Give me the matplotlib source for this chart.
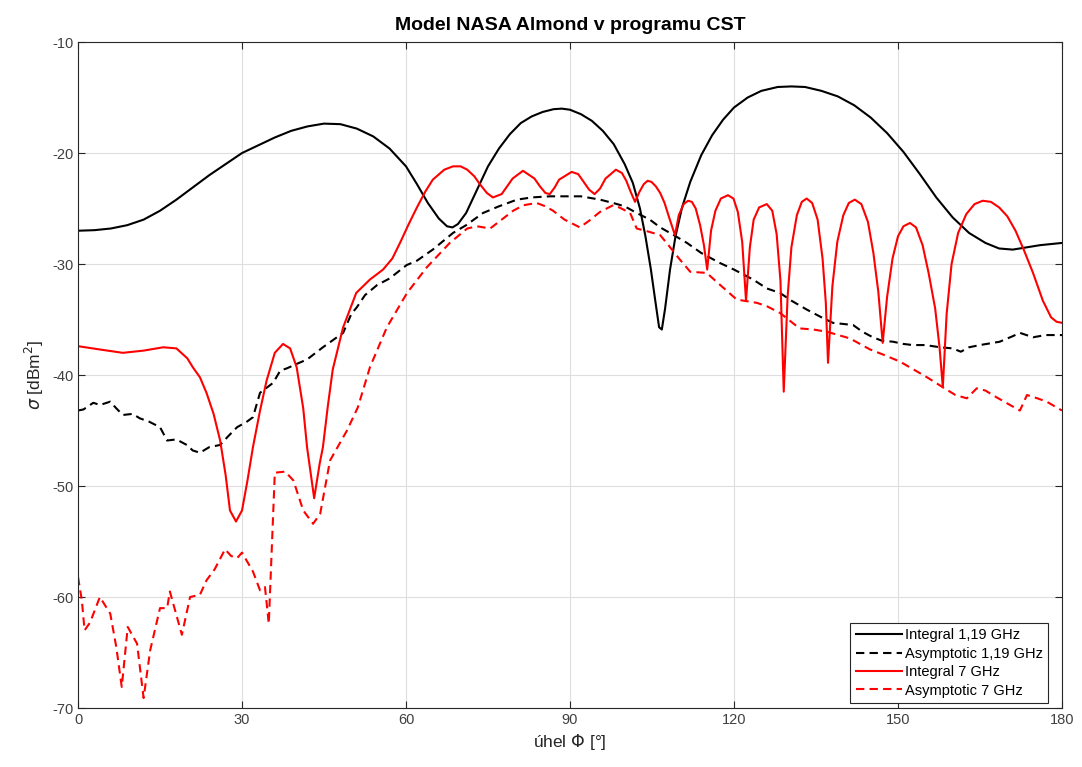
import matplotlib
matplotlib.use("Agg")
import matplotlib.pyplot as plt

plt.rcParams["font.family"] = ["Liberation Sans", "DejaVu Sans"]
plt.rcParams["mathtext.fontset"] = "dejavusans"
plt.rcParams["axes.unicode_minus"] = False

# Integral 1,19 GHz
int119_x = [0, 3, 6, 9, 12, 15, 18, 21, 24, 27, 30, 33, 36, 39, 42, 45, 48, 51, 54, 57, 60, 62,
            64, 66, 67.5, 68.5, 69.5, 71, 73, 75, 77, 79, 81, 83, 85, 87, 88.5, 90, 92, 94, 96,
            98, 100, 101.5, 102.8, 103.8, 104.8, 105.6, 106.3, 106.8, 107.4, 108.3, 109.3,
            110.5, 112, 114, 116, 118, 120, 122.5, 125, 128, 130.5, 133, 136, 139, 142, 145,
            148, 151, 154, 157, 160, 163, 166, 168.5, 171, 173.5, 176, 178, 180]
int119_y = [-27.0, -26.95, -26.8, -26.5, -26.0, -25.2, -24.2, -23.1, -22.0, -21.0, -20.0, -19.3,
            -18.6, -18.0, -17.6, -17.35, -17.4, -17.8, -18.5, -19.6, -21.2, -22.8, -24.5, -25.9,
            -26.6, -26.7, -26.4, -25.4, -23.3, -21.2, -19.6, -18.3, -17.3, -16.7, -16.3, -16.05,
            -16.0, -16.1, -16.5, -17.1, -18.0, -19.2, -21.0, -22.7, -25.0, -27.5, -30.5, -33.3,
            -35.7, -35.9, -34.0, -30.5, -27.5, -24.9, -22.6, -20.2, -18.4, -17.0, -15.9, -15.0,
            -14.4, -14.05, -14.0, -14.05, -14.4, -14.9, -15.7, -16.8, -18.2, -19.9, -21.9, -24.0,
            -25.8, -27.2, -28.1, -28.6, -28.7, -28.5, -28.3, -28.2, -28.1]

# Asymptotic 1,19 GHz
asy119_x = [0, 1, 2.8, 4, 5.9, 7, 8.2, 10, 11.3, 13, 15, 16.3, 18, 19.9, 21, 22.3, 24, 26,
            27.5, 29.1, 30.9, 32, 33.3, 35.7, 37, 38.2, 40, 41.9, 44.8, 48.5, 50, 51, 52.5,
            54.7, 57, 60.1, 62, 64.9, 68.6, 71, 74.1, 77, 80.3, 83, 86.3, 90, 92, 95.5, 97.9,
            100, 102.2, 104.6, 106.5, 109, 111.4, 114, 117.4, 120, 123.5, 126, 128.4, 130.5,
            133.3, 136, 138.1, 140, 141.8, 143.5, 145.4, 147, 149.1, 151, 152.7, 155, 157.7,
            160, 161.5, 163, 165, 168.6, 171, 172.3, 173.5, 174.7, 177, 180]
asy119_y = [-43.2, -43.1, -42.5, -42.7, -42.4, -43.0, -43.6, -43.5, -43.9, -44.2, -44.7, -45.9,
            -45.8, -46.3, -46.8, -47.0, -46.5, -46.3, -45.5, -44.7, -44.2, -43.8, -41.6, -40.7,
            -39.6, -39.4, -39.0, -38.6, -37.5, -36.2, -34.5, -33.9, -32.8, -31.9, -31.3, -30.1,
            -29.7, -28.7, -27.2, -26.5, -25.4, -24.8, -24.2, -24.0, -23.9, -23.9, -23.9, -24.2,
            -24.5, -24.8, -25.4, -26.0, -26.7, -27.4, -28.1, -29.0, -29.9, -30.5, -31.4, -32.2,
            -32.6, -33.3, -34.1, -34.8, -35.3, -35.4, -35.5, -36.1, -36.6, -36.9, -37.0, -37.2,
            -37.3, -37.3, -37.5, -37.6, -37.9, -37.5, -37.3, -37.0, -36.5, -36.2, -36.4, -36.6,
            -36.4, -36.4]

# Integral 7 GHz
int7_x = [0, 4, 8.2, 12, 15.6, 18, 20, 21, 22.3, 23.5, 24.8, 26, 27, 27.8, 28.9, 30, 31, 32,
          33.3, 34.5, 36, 37.5, 38.8, 40, 41.2, 41.9, 43.2, 44.2, 44.8, 45.7, 46.6, 48.5, 50.9,
          53.4, 55.8, 57.5, 58.9, 60.5, 62, 63.5, 64.9, 67, 68.6, 70, 71.2, 72.5, 73.5, 74.8,
          75.9, 77.5, 78.5, 79.5, 81.4, 83.5, 84.5, 85.5, 86.3, 87.2, 88, 90.3, 91.5, 92.5,
          93.5, 94.5, 95.5, 96.5, 98.4, 99.5, 100.3, 101.1, 101.9, 102.7, 103.5, 104.2, 104.9,
          105.7, 106.5, 107.3, 108, 108.6, 109.2,
          109.9, 110.8, 111.6, 112.3, 113.0, 113.8, 114.5, 115.1,
          115.8, 116.6, 117.6, 118.9, 119.9, 120.7, 121.5, 122.2,
          122.9, 123.6, 124.6, 126.0, 127.0, 127.8, 128.5, 129.1,
          129.8, 130.5, 131.5, 132.4, 133.3, 134.3, 135.3, 136.2, 136.8, 137.2,
          138.0, 138.9, 140.0, 141.0, 142.1, 143.3, 144.5, 145.5, 146.4, 147.2,
          148.0, 149.0, 150.0, 151.0, 152.2, 153.3, 154.5, 155.6, 156.8, 157.6, 158.2,
          158.9, 159.8, 161, 162.5, 164, 165.5, 167, 168.5, 170, 171.5, 173, 174.7, 176.5,
          178, 179, 180]
int7_y = [-37.4, -37.7, -38.0, -37.8, -37.5, -37.6, -38.5, -39.3, -40.2, -41.6, -43.5, -45.9,
          -49.0, -52.2, -53.2, -52.2, -49.5, -46.5, -43.2, -40.5, -38.0, -37.2, -37.6, -39.3,
          -43.0, -46.5, -51.1, -48.0, -46.5, -42.8, -39.5, -35.7, -32.6, -31.4, -30.5, -29.5,
          -28.1, -26.4, -24.9, -23.5, -22.4, -21.5, -21.2, -21.2, -21.5, -22.1, -22.8, -23.6,
          -24.0, -23.7, -23.0, -22.3, -21.6, -22.3, -23.0, -23.6, -23.7, -23.1, -22.4, -21.7,
          -21.9, -22.6, -23.3, -23.7, -23.2, -22.3, -21.5, -21.8, -22.5, -23.5, -24.4, -23.5,
          -22.8, -22.5, -22.6, -23.0, -23.6, -24.5, -25.6, -26.5, -27.4,
          -25.6, -24.6, -24.3, -24.4, -25.0, -26.5, -28.3, -30.5,
          -27.0, -25.2, -24.1, -23.8, -24.1, -25.3, -28.0, -33.3,
          -28.5, -26.0, -24.9, -24.6, -25.2, -27.3, -31.5, -41.5,
          -33.0, -28.5, -25.6, -24.4, -24.1, -24.5, -26.0, -29.5, -33.5, -38.9,
          -32.0, -28.0, -25.6, -24.5, -24.2, -24.6, -26.2, -29.0, -32.5, -37.1,
          -33.0, -29.5, -27.5, -26.6, -26.3, -26.7, -28.3, -30.8, -34.0, -37.5, -41.1,
          -34.5, -30.0, -27.2, -25.5, -24.6, -24.3, -24.4, -24.9, -25.7, -27.0, -28.7, -30.8,
          -33.3, -34.8, -35.2, -35.3]

# Asymptotic 7 GHz
asy7_x = [0, 0.7, 1.2, 2.2, 4, 5.9, 7, 8, 9.1, 10.8, 12, 13.2, 15, 16.3, 16.8, 19, 20.5, 22.3,
          23.5, 25, 26.9, 28, 29.1, 30, 32, 33.3, 34.2, 34.9, 36, 37.9, 39.4, 41.2, 43, 44.3,
          46.1, 49.2, 51.2, 53.4, 56.5, 60.2, 63.8, 68, 71.2, 73, 75.4, 77.5, 79.6, 81.5, 83.9,
          85.5, 86.9, 89, 91.8, 93.5, 95.5, 97.9, 99, 101, 102.2, 104.5, 106.5, 108, 110.1,
          112, 115, 117.5, 120.5, 124.2, 126, 128.4, 132, 134.5, 137, 141.2, 144.9, 147.5,
          150.4, 155.3, 158.2, 160.5, 162.6, 164.4, 166, 168, 170.5, 172.3, 173.6, 175.5,
          177.2, 180]
asy7_y = [-58.2, -60.3, -63.0, -62.3, -60.0, -61.5, -64.5, -68.1, -62.7, -64.2, -69.1, -64.8,
          -61.0, -61.0, -59.5, -63.4, -60.0, -59.8, -58.5, -57.5, -55.7, -56.3, -56.5, -56.0,
          -57.7, -59.4, -59.1, -62.4, -48.8, -48.7, -49.5, -52.2, -53.4, -52.5, -47.7, -45.0,
          -42.9, -39.3, -35.7, -32.6, -30.3, -28.1, -26.8, -26.6, -26.8, -26.0, -25.2, -24.7,
          -24.5, -24.8, -25.2, -26.0, -26.7, -26.1, -25.3, -24.7, -24.9, -25.4, -26.8, -27.1,
          -27.4, -28.3, -29.6, -30.7, -30.8, -31.9, -33.2, -33.5, -33.8, -34.4, -35.8, -35.9,
          -36.1, -36.7, -37.7, -38.2, -38.8, -40.2, -41.1, -41.8, -42.1, -41.2, -41.4, -42.0,
          -42.7, -43.2, -41.8, -42.1, -42.4, -43.2]

fig = plt.figure(figsize=(10.82, 7.67), dpi=100)
ax = fig.add_axes([0.0721, 0.0769, 0.9094, 0.8683])

dash = (4.0, 2.5)
ax.plot(int119_x, int119_y, color="black", linewidth=1.5, label="Integral 1,19 GHz")
ax.plot(asy119_x, asy119_y, color="black", linewidth=1.5, dashes=dash,
        label="Asymptotic 1,19 GHz")
ax.plot(int7_x, int7_y, color="#ff0000", linewidth=1.5, label="Integral 7 GHz")
ax.plot(asy7_x, asy7_y, color="#ff0000", linewidth=1.5, dashes=dash,
        label="Asymptotic 7 GHz")

ax.set_xlim(0, 180)
ax.set_ylim(-70, -10)
ax.set_xticks([0, 30, 60, 90, 120, 150, 180])
ax.set_yticks([-70, -60, -50, -40, -30, -20, -10])
ax.grid(True, color="#dedede", linewidth=0.8)
ax.set_axisbelow(True)
ax.tick_params(direction="in", top=True, right=True, length=5, width=0.8,
               labelsize=10.5, labelcolor="#404040", color="#262626")
for s in ax.spines.values():
    s.set_color("#262626")
    s.set_linewidth(0.8)

ax.set_title("Model NASA Almond v programu CST", fontsize=14, fontweight="bold", pad=9)
ax.set_xlabel(r"úhel $\Phi$ [°]", fontsize=12.5, color="#262626")
ax.set_ylabel(r"$\sigma$ [dBm$^2$]", fontsize=12.5, color="#262626")

leg = ax.legend(loc="lower right", bbox_to_anchor=(0.986, 0.008), borderaxespad=0,
                fontsize=10.5, fancybox=False, framealpha=1, edgecolor="#262626",
                handlelength=3.2, labelspacing=0.3, handletextpad=0.2, borderpad=0.35)
leg.get_frame().set_linewidth(0.8)

fig.savefig("out.png", dpi=100)
